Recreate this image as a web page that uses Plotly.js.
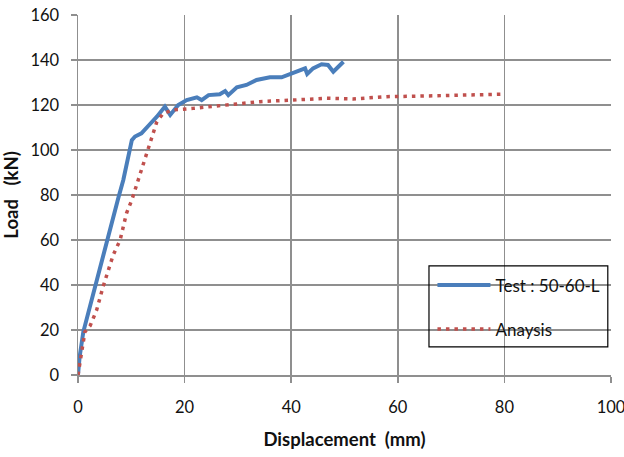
<!DOCTYPE html>
<html><head><meta charset="utf-8">
<script src="https://cdn.plot.ly/plotly-3.0.1.min.js"></script>
<style>body{margin:0;background:#fff}#chart{width:624px;height:457px}</style>
</head><body><div id="chart"></div>
<script>
const testX = [0, 0.3, 1.0, 2.5, 4.2, 6.0, 7.6, 8.5, 9.3, 10.1, 10.7, 11.9, 13.3, 14.8, 16.3, 17.3, 18.8, 20.4, 22.3, 23.2, 24.5, 26.6, 27.6, 28.2, 29.8, 31.6, 33.5, 36.0, 38.2, 40.4, 42.6, 43.0, 44.1, 45.7, 46.9, 47.9, 48.8, 49.8];
const testY = [0, 8, 19.2, 33, 49, 65, 79, 86.7, 95, 104.4, 106, 107.4, 111, 114.8, 119.3, 115.6, 120, 122.2, 123.4, 122.2, 124.4, 124.8, 126.2, 124.4, 127.9, 128.9, 131.1, 132.3, 132.3, 134.4, 136.3, 133.8, 136.3, 138.1, 137.8, 134.8, 137, 139.2];
const anaX = [0, 0.7, 1.3, 2.3, 3.5, 4.7, 6.6, 7.9, 9.1, 10.1, 11.6, 12.9, 14.0, 14.8, 16.0, 17.9, 21.6, 27.9, 34.1, 40.4, 46.6, 51.6, 57.9, 65.0, 72.9, 79.8];
const anaY = [0, 11, 19.2, 22, 28.9, 39.2, 53.3, 60, 71.9, 77.8, 88.9, 99.3, 107.4, 112.6, 116.3, 117.8, 118.5, 120, 121.5, 122.2, 123, 122.7, 123.7, 124.0, 124.4, 124.8];
const names = ['Test : 50-60-L', 'Anaysis'];
const xTicks = [0, 20, 40, 60, 80, 100];
const yTicks = [0, 20, 40, 60, 80, 100, 120, 140, 160];

const traces = [
  {x: testX, y: testY, name: names[0], mode: 'lines', legendgroup: 'a',
   line: {color: '#4A7EBB', width: 4}},
  {x: anaX, y: anaY, name: names[1], mode: 'lines', legendgroup: 'b',
   line: {color: '#C0504D', width: 3.5, dash: '3.5px,5px'}}
];
const gridc = '#8f8f8f';
const layout = {
  width: 624, height: 457,
  margin: {l: 78, r: 13, t: 15, b: 82},
  paper_bgcolor: '#fff', plot_bgcolor: '#fff',
  font: {family: 'Lato, "Open Sans", sans-serif', color: '#111', size: 14},
  showlegend: true,
  legend: {x: 0.665, y: 0.299, xanchor: 'left', yanchor: 'top',
    bgcolor: 'rgba(0,0,0,0)', borderwidth: 0, traceorder: 'grouped',
    tracegroupgap: 19, itemwidth: 53, font: {size: 17, color: '#111'}},
  xaxis: {range: [0, 100], tickvals: xTicks, ticktext: xTicks.map(String),
    showgrid: true, gridcolor: gridc, gridwidth: 1.5, zeroline: false,
    showline: true, linecolor: gridc, linewidth: 1.5, mirror: false,
    ticks: 'outside', ticklen: 6, tickcolor: gridc, tickwidth: 1.5,
    tickfont: {size: 16.5}, ticklabelstandoff: 11, automargin: false,
    ticklabeloverflow: 'allow',
    title: {text: '<b>Displacement\u00a0\u00a0(mm)</b>', font: {size: 18.5}, standoff: 17}},
  yaxis: {range: [0, 160], tickvals: yTicks, ticktext: yTicks.map(String),
    showgrid: true, gridcolor: gridc, gridwidth: 1.5, zeroline: false,
    showline: true, linecolor: gridc, linewidth: 1.5,
    ticks: 'outside', ticklen: 6, tickcolor: gridc, tickwidth: 1.5,
    tickfont: {size: 16.5}, ticklabelstandoff: 8, automargin: false,
    ticklabeloverflow: 'allow',
    title: {text: '<b>Load\u00a0\u00a0\u00a0(kN)</b>', font: {size: 18.5}, standoff: 8}},
  shapes: [
    {type: 'rect', xref: 'paper', yref: 'paper', x0: 0.6585, x1: 0.994, y0: 0.078, y1: 0.303,
     line: {color: '#000', width: 1.2}, fillcolor: 'rgba(0,0,0,0)', layer: 'above'}
  ]
};
Plotly.newPlot('chart', traces, layout, {displayModeBar: false, staticPlot: true});
</script></body></html>
